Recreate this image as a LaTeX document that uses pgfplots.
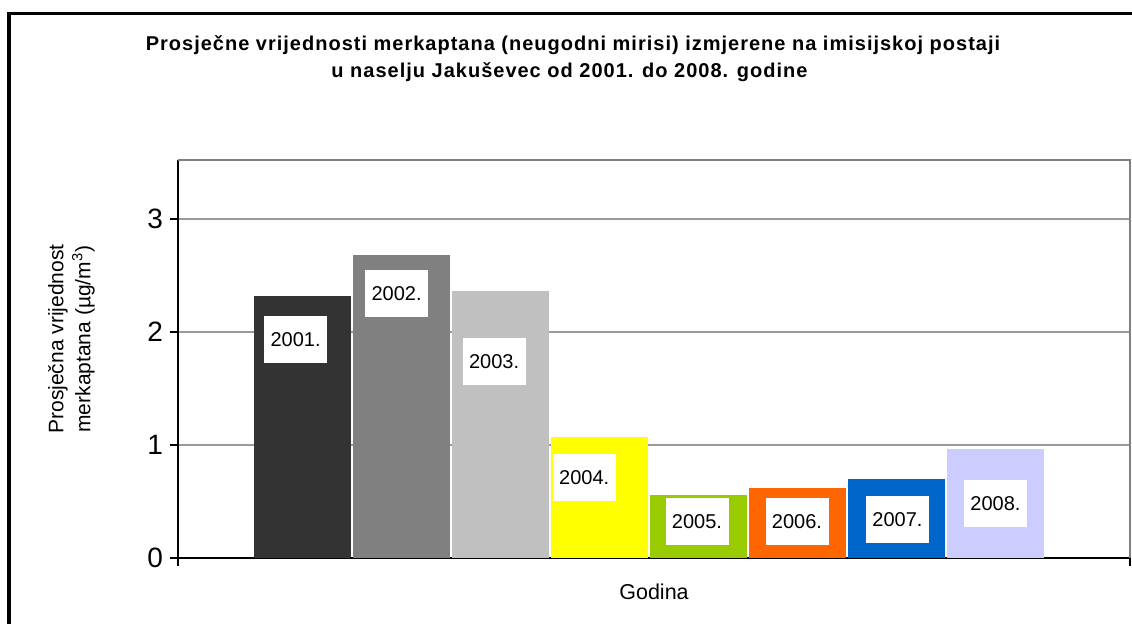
\documentclass[border=0pt]{standalone}
\usepackage{fontspec}
\setmainfont{Liberation Sans}
\usepackage{pgfplots}
\pgfplotsset{compat=1.18}
\definecolor{cA}{HTML}{333333}
\definecolor{cB}{HTML}{808080}
\definecolor{cC}{HTML}{C0C0C0}
\definecolor{cD}{HTML}{FFFF00}
\definecolor{cE}{HTML}{99CC00}
\definecolor{cF}{HTML}{FF6600}
\definecolor{cG}{HTML}{0066CC}
\definecolor{cH}{HTML}{CCCCFF}
\definecolor{gridc}{HTML}{9A9A9A}
\definecolor{framec}{HTML}{808080}
\pgfplotstableread{
x y label
0.93 1.93 2001.
1.95 2.34 2002.
2.935 1.74 2003.
3.845 0.71 2004.
4.985 0.32 2005.
5.995 0.32 2006.
7.01 0.34 2007.
8.0 0.48 2008.
}\labeltable
\begin{document}
\begin{tikzpicture}
\useasboundingbox (0,0) rectangle (566pt,312pt);
\fill[white] (0,0) rectangle (566pt,312pt);
\draw[black, line width=1.75pt] (4.6pt,-3pt) -- (4.6pt,305.3pt) -- (570pt,305.3pt);
\node[anchor=base, font=\bfseries\fontsize{10}{12}\selectfont\addfontfeatures{LetterSpace=5}] at (286.5pt,286.5pt) {Prosječne vrijednosti merkaptana (neugodni mirisi) izmjerene na imisijskoj postaji};
\node[anchor=base, font=\bfseries\fontsize{10}{12}\selectfont\addfontfeatures{LetterSpace=5}] at (284.75pt,273.3pt) {u naselju Jakuševec od 2001. do 2008. godine};
\begin{axis}[
  at={(89pt,33pt)}, anchor=south west,
  scale only axis, width=476pt, height=199pt,
  xmin=-0.258, xmax=9.359, ymin=0, ymax=3.52,
  axis x line*=bottom, axis y line*=left,
  axis line style={black, line width=1pt},
  xtick={-0.258,9.359}, xticklabels={},
  ytick={0,1,2,3},
  tick align=outside, major tick length=4pt,
  tick style={black, line width=1pt},
  ymajorgrids, grid style={gridc, line width=1pt},
  /pgf/number format/assume math mode=true,
  yticklabel style={font=\fontsize{14}{16}\selectfont},
  xlabel={Godina},
  xlabel style={at={(rel axis cs:0.5,-0.0854)}, anchor=center, font=\fontsize{10.75}{12}\selectfont},
  ylabel={Prosječna vrijednost\\merkaptana (µg/m\textsuperscript{3})},
  ylabel style={at={(rel axis cs:-0.1119,0.55)}, anchor=center, align=center, font=\fontsize{10.5}{13.5}\selectfont},
  clip=false,
]
\addplot[ybar, bar width=0.985, bar shift=0pt, fill=cA, draw=none] coordinates {(1,2.32)};
\addplot[ybar, bar width=0.985, bar shift=0pt, fill=cB, draw=none] coordinates {(2,2.68)};
\addplot[ybar, bar width=0.985, bar shift=0pt, fill=cC, draw=none] coordinates {(3,2.36)};
\addplot[ybar, bar width=0.985, bar shift=0pt, fill=cD, draw=none] coordinates {(4,1.07)};
\addplot[ybar, bar width=0.985, bar shift=0pt, fill=cE, draw=none] coordinates {(5,0.56)};
\addplot[ybar, bar width=0.985, bar shift=0pt, fill=cF, draw=none] coordinates {(6,0.62)};
\addplot[ybar, bar width=0.985, bar shift=0pt, fill=cG, draw=none] coordinates {(7,0.70)};
\addplot[ybar, bar width=0.985, bar shift=0pt, fill=cH, draw=none] coordinates {(8,0.965)};
\addplot[draw=none, mark=none, nodes near coords, point meta=explicit symbolic,
  nodes near coords style={anchor=center, fill=white, minimum width=31.5pt, minimum height=23.5pt, inner sep=0pt, font=\fontsize{10}{12}\selectfont, text=black}]
  table[x=x, y=y, meta=label] {\labeltable};
\draw[framec, line width=1pt] (rel axis cs:0,1) -- (rel axis cs:1,1) -- (rel axis cs:1,0);
\end{axis}
\end{tikzpicture}
\end{document}
